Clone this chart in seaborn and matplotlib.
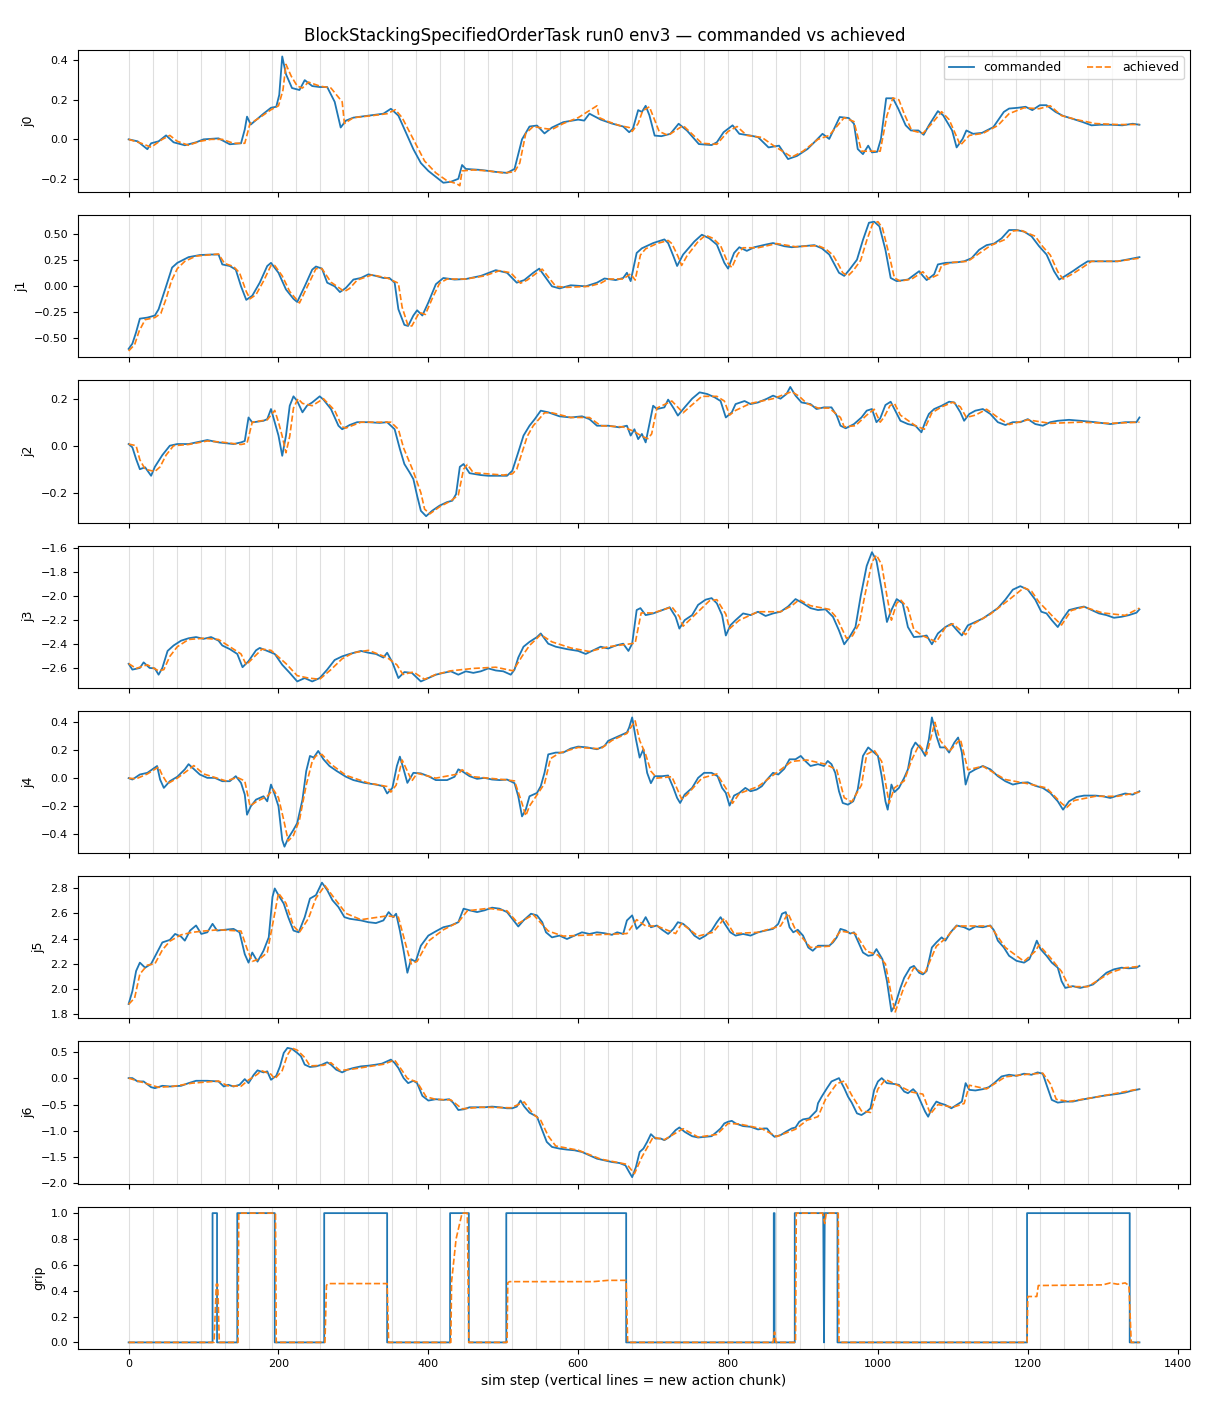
import numpy as np
import pandas as pd
import matplotlib
matplotlib.use("Agg")
import matplotlib.pyplot as plt
from matplotlib.ticker import MultipleLocator
import seaborn as sns

# (sim step, value) keypoints, per joint
j0_cmd = [(0, 0.0), (12, -0.01), (25, -0.05), (30, -0.02), (40, -0.01), (50, 0.02), (60, -0.015), (75, -0.03),
          (90, -0.015), (100, 0.0), (120, 0.005), (135, -0.025), (150, -0.02), (155, 0.05), (158, 0.115),
          (163, 0.075), (180, 0.13), (190, 0.16), (197, 0.165), (201, 0.225), (205, 0.42), (210, 0.33),
          (218, 0.26), (228, 0.25), (235, 0.30), (245, 0.27), (255, 0.265), (265, 0.265), (275, 0.19),
          (283, 0.06), (290, 0.095), (300, 0.11), (320, 0.12), (340, 0.13), (350, 0.155), (360, 0.12),
          (370, 0.035), (380, -0.05), (390, -0.12), (400, -0.16), (410, -0.19), (420, -0.22), (430, -0.215),
          (440, -0.2), (445, -0.13), (450, -0.15), (470, -0.155), (490, -0.165), (505, -0.17), (515, -0.15),
          (525, 0.0), (535, 0.065), (545, 0.07), (555, 0.03), (565, 0.06), (580, 0.087), (600, 0.1),
          (608, 0.095), (615, 0.13), (630, 0.1), (645, 0.08), (660, 0.065), (668, 0.036), (673, 0.054),
          (680, 0.148), (685, 0.139), (690, 0.17), (695, 0.122), (702, 0.019), (711, 0.016), (723, 0.028),
          (734, 0.079), (745, 0.045), (761, -0.024), (778, -0.029), (785, -0.015), (794, 0.036), (806, 0.071),
          (815, 0.028), (830, 0.019), (840, 0.011), (854, -0.041), (868, -0.032), (880, -0.1), (892, -0.084),
          (906, -0.049), (915, -0.015), (926, 0.028), (935, 0.002), (949, 0.113), (961, 0.108), (968, 0.079),
          (973, -0.049), (980, -0.075), (987, -0.032), (992, -0.066), (999, -0.063), (1004, 0.002),
          (1011, 0.208), (1020, 0.208), (1027, 0.156), (1037, 0.071), (1044, 0.045), (1054, 0.045),
          (1061, 0.023), (1068, 0.071), (1080, 0.143), (1087, 0.122), (1099, 0.045), (1105, -0.041),
          (1113, 0.002), (1118, 0.045), (1127, 0.028), (1139, 0.033), (1154, 0.062), (1168, 0.139),
          (1175, 0.156), (1187, 0.16), (1197, 0.165), (1206, 0.148), (1216, 0.173), (1225, 0.173),
          (1237, 0.139), (1247, 0.119), (1259, 0.105), (1273, 0.088), (1285, 0.071), (1297, 0.074),
          (1311, 0.074), (1326, 0.071), (1340, 0.079), (1349, 0.074)]
j0_ach = [(0, 0.0), (17, -0.02), (30, -0.04), (45, 0.0), (55, 0.02), (65, -0.01), (80, -0.03), (95, -0.01),
          (110, 0.0), (125, 0.0), (140, -0.02), (155, -0.02), (162, 0.08), (175, 0.11), (190, 0.15), (200, 0.17),
          (206, 0.25), (210, 0.38), (217, 0.32), (225, 0.27), (232, 0.26), (240, 0.29), (255, 0.27), (270, 0.26),
          (285, 0.19), (288, 0.08), (300, 0.11), (325, 0.12), (345, 0.13), (356, 0.15), (365, 0.11), (380, 0.0),
          (395, -0.11), (410, -0.17), (425, -0.21), (438, -0.225), (442, -0.235), (445, -0.16), (460, -0.155),
          (480, -0.16), (500, -0.17), (515, -0.165), (522, -0.12), (530, 0.03), (540, 0.065), (555, 0.055),
          (565, 0.05), (580, 0.08), (600, 0.11), (625, 0.17), (628, 0.11), (640, 0.09), (655, 0.07),
          (668, 0.06), (672, 0.04), (680, 0.08), (686, 0.145), (695, 0.165), (708, 0.04), (720, 0.02),
          (740, 0.07), (765, -0.02), (785, -0.025), (800, 0.04), (812, 0.065), (825, 0.02), (845, 0.01),
          (860, -0.03), (885, -0.09), (900, -0.06), (920, 0.0), (935, 0.02), (955, 0.11), (968, 0.09),
          (978, -0.06), (992, -0.06), (1003, -0.06), (1012, 0.12), (1020, 0.21), (1028, 0.2), (1035, 0.13),
          (1045, 0.045), (1060, 0.03), (1072, 0.08), (1085, 0.14), (1095, 0.1), (1110, -0.03), (1122, 0.02),
          (1140, 0.03), (1160, 0.07), (1175, 0.13), (1195, 0.16), (1215, 0.155), (1230, 0.17), (1245, 0.12),
          (1265, 0.1), (1290, 0.08), (1320, 0.075), (1349, 0.075)]

j1_cmd = [(0, -0.60), (5, -0.55), (10, -0.44), (15, -0.31), (25, -0.30), (35, -0.28), (40, -0.22), (50, 0.0),
          (58, 0.18), (65, 0.225), (80, 0.28), (95, 0.30), (110, 0.305), (120, 0.305), (125, 0.21), (135, 0.195),
          (143, 0.16), (150, 0.0), (157, -0.13), (165, -0.09), (175, 0.035), (185, 0.195), (190, 0.225),
          (200, 0.13), (210, -0.03), (220, -0.12), (225, -0.15), (235, 0.0), (245, 0.16), (250, 0.19),
          (258, 0.17), (265, 0.035), (275, 0.0), (282, -0.055), (290, -0.015), (300, 0.065), (310, 0.08),
          (320, 0.115), (330, 0.10), (340, 0.08), (348, 0.08), (355, 0.035), (360, -0.22), (368, -0.37),
          (373, -0.38), (380, -0.28), (385, -0.23), (392, -0.28), (400, -0.155), (410, 0.02), (420, 0.08),
          (435, 0.065), (450, 0.07), (470, 0.10), (490, 0.155), (505, 0.13), (518, 0.035), (528, 0.06),
          (540, 0.13), (548, 0.17), (555, 0.10), (565, 0.0), (575, -0.02), (590, 0.01), (610, 0.0),
          (625, 0.035), (635, 0.075), (650, 0.06), (660, 0.08), (665, 0.13), (670, 0.05), (678, 0.32),
          (685, 0.365), (700, 0.415), (715, 0.45), (720, 0.415), (727, 0.29), (732, 0.195), (740, 0.305),
          (755, 0.43), (765, 0.495), (775, 0.46), (785, 0.40), (795, 0.225), (800, 0.17), (808, 0.32),
          (815, 0.375), (825, 0.34), (835, 0.375), (850, 0.40), (860, 0.415), (875, 0.385), (885, 0.375),
          (900, 0.385), (915, 0.395), (925, 0.365), (935, 0.305), (942, 0.21), (948, 0.13), (955, 0.10),
          (962, 0.16), (972, 0.255), (980, 0.445), (988, 0.61), (995, 0.62), (1002, 0.575), (1010, 0.35),
          (1017, 0.08), (1025, 0.05), (1040, 0.065), (1055, 0.145), (1060, 0.10), (1065, 0.06), (1075, 0.115),
          (1080, 0.21), (1090, 0.225), (1105, 0.23), (1115, 0.24), (1125, 0.27), (1135, 0.35), (1145, 0.395),
          (1155, 0.41), (1165, 0.46), (1175, 0.54), (1185, 0.54), (1195, 0.525), (1205, 0.48), (1215, 0.385),
          (1225, 0.305), (1235, 0.145), (1242, 0.065), (1250, 0.10), (1260, 0.145), (1270, 0.195),
          (1280, 0.24), (1300, 0.24), (1320, 0.24), (1335, 0.26), (1349, 0.28)]
j1_ach = [(0, -0.62), (8, -0.56), (14, -0.43), (22, -0.32), (35, -0.30), (43, -0.26), (50, -0.12), (57, 0.05),
          (65, 0.17), (75, 0.24), (90, 0.29), (105, 0.30), (120, 0.31), (128, 0.22), (140, 0.19), (148, 0.13),
          (157, -0.05), (162, -0.12), (170, -0.08), (180, 0.05), (190, 0.2), (195, 0.2), (205, 0.1),
          (215, -0.05), (228, -0.16), (240, 0.02), (250, 0.17), (258, 0.17), (270, 0.04), (280, -0.01),
          (288, -0.05), (295, -0.02), (305, 0.06), (325, 0.11), (345, 0.08), (360, 0.03), (365, -0.2),
          (373, -0.38), (378, -0.38), (388, -0.25), (396, -0.27), (405, -0.12), (415, 0.03), (425, 0.07),
          (450, 0.07), (475, 0.1), (495, 0.15), (510, 0.13), (523, 0.03), (532, 0.06), (545, 0.13),
          (552, 0.165), (560, 0.09), (570, 0.0), (585, -0.01), (615, 0.0), (630, 0.03), (640, 0.07),
          (660, 0.07), (670, 0.12), (676, 0.06), (683, 0.3), (690, 0.36), (705, 0.41), (720, 0.44),
          (725, 0.41), (733, 0.29), (738, 0.2), (745, 0.29), (760, 0.43), (770, 0.49), (780, 0.46),
          (790, 0.39), (800, 0.22), (805, 0.18), (813, 0.31), (820, 0.37), (840, 0.37), (865, 0.41),
          (890, 0.38), (920, 0.39), (930, 0.36), (940, 0.3), (948, 0.2), (953, 0.13), (960, 0.1), (967, 0.15),
          (977, 0.25), (985, 0.44), (993, 0.6), (1000, 0.62), (1006, 0.56), (1015, 0.3), (1022, 0.08),
          (1030, 0.05), (1045, 0.07), (1060, 0.14), (1068, 0.07), (1080, 0.11), (1085, 0.2), (1100, 0.23),
          (1120, 0.24), (1140, 0.34), (1150, 0.39), (1170, 0.45), (1180, 0.53), (1190, 0.54), (1210, 0.48),
          (1220, 0.38), (1230, 0.3), (1240, 0.14), (1247, 0.07), (1260, 0.12), (1275, 0.19), (1285, 0.24),
          (1320, 0.24), (1349, 0.27)]

j2_cmd = [(0, 0.007), (5, -0.007), (10, -0.057), (15, -0.1), (22, -0.092), (30, -0.128), (35, -0.09),
          (45, -0.04), (55, 0.0), (65, 0.007), (80, 0.007), (95, 0.017), (105, 0.024), (120, 0.014),
          (140, 0.007), (150, 0.014), (155, 0.02), (160, 0.12), (165, 0.099), (180, 0.106), (185, 0.113),
          (190, 0.156), (195, 0.1), (200, 0.043), (205, -0.043), (210, 0.043), (215, 0.17), (220, 0.21),
          (225, 0.19), (232, 0.142), (238, 0.17), (245, 0.184), (255, 0.21), (260, 0.196), (270, 0.156),
          (280, 0.085), (285, 0.07), (295, 0.088), (305, 0.1), (320, 0.1), (335, 0.097), (345, 0.1),
          (355, 0.07), (362, -0.014), (368, -0.078), (375, -0.114), (380, -0.142), (385, -0.213),
          (390, -0.277), (397, -0.30), (405, -0.277), (415, -0.255), (425, -0.24), (432, -0.234),
          (437, -0.206), (442, -0.09), (447, -0.078), (455, -0.117), (470, -0.125), (480, -0.128),
          (495, -0.128), (505, -0.128), (512, -0.107), (520, -0.028), (527, 0.043), (535, 0.085),
          (542, 0.113), (550, 0.149), (560, 0.142), (575, 0.125), (590, 0.12), (605, 0.125), (615, 0.113),
          (625, 0.085), (640, 0.085), (655, 0.078), (665, 0.085), (670, 0.043), (675, 0.07), (680, 0.028),
          (685, 0.05), (690, 0.014), (700, 0.17), (705, 0.156), (715, 0.163), (720, 0.196), (728, 0.156),
          (733, 0.128), (742, 0.163), (752, 0.2), (762, 0.227), (772, 0.22), (782, 0.206), (790, 0.19),
          (797, 0.12), (805, 0.142), (810, 0.177), (822, 0.19), (830, 0.177), (840, 0.184), (852, 0.2),
          (860, 0.213), (870, 0.2), (878, 0.22), (883, 0.25), (890, 0.213), (898, 0.184), (910, 0.177),
          (918, 0.156), (928, 0.163), (938, 0.163), (945, 0.128), (950, 0.085), (957, 0.074), (968, 0.092),
          (978, 0.12), (985, 0.149), (992, 0.156), (998, 0.1), (1003, 0.116), (1010, 0.173), (1017, 0.187),
          (1022, 0.156), (1030, 0.106), (1040, 0.092), (1050, 0.085), (1058, 0.057), (1063, 0.1),
          (1068, 0.135), (1075, 0.156), (1085, 0.17), (1095, 0.187), (1102, 0.184), (1110, 0.142),
          (1115, 0.106), (1122, 0.135), (1130, 0.149), (1140, 0.156), (1150, 0.135), (1160, 0.1),
          (1170, 0.088), (1180, 0.1), (1190, 0.1), (1200, 0.113), (1210, 0.092), (1220, 0.085), (1230, 0.1),
          (1240, 0.106), (1255, 0.11), (1270, 0.106), (1290, 0.1), (1310, 0.092), (1330, 0.1), (1345, 0.1),
          (1349, 0.12)]
j2_ach = [(0, 0.007), (10, 0.0), (15, -0.06), (22, -0.1), (35, -0.11), (42, -0.09), (50, -0.04), (60, 0.0),
          (80, 0.005), (105, 0.02), (125, 0.015), (150, 0.005), (158, 0.01), (165, 0.1), (185, 0.11),
          (195, 0.15), (200, 0.1), (205, 0.04), (210, -0.03), (215, 0.04), (220, 0.16), (226, 0.2), (232, 0.18),
          (245, 0.17), (260, 0.2), (275, 0.15), (285, 0.08), (290, 0.075), (310, 0.1), (350, 0.1), (360, 0.07),
          (367, -0.01), (380, -0.11), (390, -0.2), (395, -0.27), (402, -0.29), (415, -0.26), (430, -0.235),
          (440, -0.21), (447, -0.1), (452, -0.08), (460, -0.115), (500, -0.125), (512, -0.12), (518, -0.1),
          (525, -0.03), (532, 0.04), (540, 0.085), (555, 0.14), (565, 0.14), (590, 0.12), (615, 0.12),
          (630, 0.085), (660, 0.08), (675, 0.06), (685, 0.04), (693, 0.03), (698, 0.05), (705, 0.16),
          (725, 0.19), (740, 0.14), (747, 0.16), (765, 0.21), (785, 0.21), (795, 0.19), (802, 0.13),
          (810, 0.15), (830, 0.18), (860, 0.2), (885, 0.23), (895, 0.21), (905, 0.18), (920, 0.16),
          (935, 0.16), (950, 0.12), (955, 0.08), (970, 0.085), (985, 0.13), (995, 0.155), (1003, 0.1),
          (1008, 0.12), (1016, 0.17), (1022, 0.18), (1030, 0.13), (1050, 0.085), (1062, 0.07), (1072, 0.14),
          (1085, 0.165), (1100, 0.185), (1110, 0.165), (1118, 0.12), (1130, 0.13), (1145, 0.155),
          (1160, 0.12), (1175, 0.09), (1200, 0.11), (1230, 0.095), (1270, 0.1), (1310, 0.095), (1349, 0.1)]

j3_cmd = [(0, -2.562), (5, -2.61), (15, -2.596), (20, -2.55), (28, -2.596), (35, -2.6), (40, -2.652),
          (45, -2.596), (52, -2.455), (60, -2.41), (70, -2.37), (80, -2.35), (90, -2.34), (100, -2.355),
          (110, -2.34), (120, -2.37), (125, -2.41), (135, -2.44), (145, -2.48), (152, -2.59), (160, -2.54),
          (170, -2.45), (175, -2.43), (185, -2.455), (195, -2.48), (205, -2.57), (215, -2.637), (225, -2.708),
          (235, -2.68), (245, -2.708), (255, -2.68), (265, -2.61), (275, -2.53), (285, -2.5), (295, -2.48),
          (310, -2.455), (320, -2.47), (330, -2.48), (340, -2.51), (345, -2.47), (352, -2.55), (360, -2.68),
          (368, -2.63), (378, -2.637), (390, -2.708), (400, -2.68), (410, -2.652), (420, -2.637),
          (430, -2.624), (440, -2.652), (450, -2.624), (460, -2.637), (470, -2.624), (480, -2.6),
          (490, -2.617), (500, -2.624), (510, -2.652), (515, -2.61), (520, -2.51), (527, -2.42), (535, -2.38),
          (545, -2.34), (550, -2.31), (560, -2.395), (570, -2.42), (585, -2.44), (600, -2.455), (610, -2.48),
          (620, -2.45), (630, -2.42), (640, -2.435), (650, -2.41), (660, -2.395), (667, -2.455),
          (672, -2.395), (678, -2.116), (683, -2.1), (690, -2.158), (700, -2.144), (715, -2.11),
          (722, -2.093), (730, -2.172), (735, -2.27), (742, -2.2), (752, -2.158), (760, -2.073), (770, -2.03),
          (778, -2.017), (785, -2.06), (792, -2.158), (797, -2.327), (803, -2.243), (810, -2.2),
          (820, -2.144), (830, -2.158), (840, -2.13), (850, -2.165), (860, -2.144), (870, -2.13),
          (880, -2.087), (890, -2.025), (900, -2.06), (910, -2.1), (920, -2.116), (930, -2.11), (940, -2.172),
          (948, -2.285), (955, -2.4), (962, -2.34), (970, -2.257), (977, -2.0), (985, -1.75), (992, -1.636),
          (998, -1.706), (1005, -1.947), (1012, -2.215), (1018, -2.116), (1025, -2.025), (1033, -2.06),
          (1040, -2.257), (1048, -2.34), (1058, -2.335), (1065, -2.327), (1072, -2.4), (1080, -2.31),
          (1090, -2.257), (1098, -2.23), (1105, -2.28), (1112, -2.327), (1120, -2.243), (1130, -2.215),
          (1140, -2.186), (1150, -2.144), (1160, -2.1), (1170, -2.03), (1180, -1.947), (1190, -1.918),
          (1200, -1.947), (1210, -2.03), (1218, -2.13), (1225, -2.144), (1232, -2.2), (1240, -2.257),
          (1247, -2.186), (1255, -2.116), (1265, -2.1), (1275, -2.087), (1285, -2.116), (1295, -2.144),
          (1305, -2.158), (1315, -2.18), (1325, -2.172), (1335, -2.158), (1345, -2.138), (1349, -2.11)]
j3_ach = [(0, -2.56), (10, -2.6), (25, -2.57), (40, -2.62), (47, -2.61), (55, -2.5), (65, -2.42), (80, -2.36),
          (100, -2.35), (120, -2.36), (130, -2.4), (150, -2.48), (157, -2.57), (165, -2.52), (178, -2.44),
          (190, -2.45), (210, -2.56), (225, -2.66), (240, -2.68), (255, -2.69), (270, -2.61), (285, -2.52),
          (300, -2.47), (320, -2.45), (345, -2.51), (358, -2.57), (366, -2.65), (380, -2.63), (395, -2.69),
          (410, -2.65), (430, -2.62), (460, -2.6), (490, -2.59), (513, -2.62), (525, -2.5), (535, -2.41),
          (550, -2.32), (565, -2.38), (590, -2.43), (615, -2.46), (640, -2.42), (665, -2.4), (676, -2.39),
          (684, -2.14), (700, -2.14), (725, -2.09), (735, -2.17), (740, -2.25), (760, -2.13), (775, -2.04),
          (785, -2.03), (797, -2.15), (802, -2.27), (815, -2.2), (840, -2.13), (870, -2.13), (885, -2.08),
          (895, -2.03), (910, -2.08), (935, -2.11), (945, -2.18), (958, -2.35), (966, -2.33), (975, -2.23),
          (983, -1.98), (992, -1.72), (998, -1.66), (1005, -1.74), (1012, -2.0), (1018, -2.2), (1025, -2.06),
          (1030, -2.03), (1040, -2.1), (1048, -2.28), (1060, -2.33), (1078, -2.38), (1090, -2.26),
          (1100, -2.23), (1117, -2.32), (1125, -2.24), (1150, -2.15), (1175, -2.03), (1195, -1.93),
          (1205, -1.96), (1215, -2.05), (1235, -2.18), (1245, -2.24), (1258, -2.12), (1275, -2.09),
          (1300, -2.14), (1330, -2.16), (1349, -2.1)]

j4_cmd = [(0, 0.0), (5, -0.01), (15, 0.026), (25, 0.038), (35, 0.075), (38, 0.087), (42, -0.01), (47, -0.07),
          (55, -0.022), (65, 0.01), (75, 0.063), (80, 0.1), (85, 0.075), (95, 0.026), (105, 0.002),
          (115, 0.002), (125, -0.022), (135, -0.022), (143, 0.014), (150, -0.034), (155, -0.118),
          (158, -0.262), (163, -0.202), (170, -0.154), (180, -0.13), (185, -0.166), (190, -0.046),
          (195, -0.118), (200, -0.202), (205, -0.443), (208, -0.491), (213, -0.43), (220, -0.37),
          (225, -0.322), (232, -0.154), (237, 0.05), (242, 0.159), (247, 0.147), (253, 0.195), (260, 0.135),
          (268, 0.087), (278, 0.05), (290, 0.01), (300, -0.014), (315, -0.034), (330, -0.046), (340, -0.058),
          (345, -0.11), (352, -0.07), (358, 0.087), (362, 0.154), (367, 0.063), (372, -0.034), (380, 0.038),
          (390, 0.034), (400, 0.014), (410, -0.014), (425, -0.014), (435, 0.01), (440, 0.063), (445, 0.05),
          (455, 0.014), (465, -0.005), (475, 0.002), (485, -0.01), (495, -0.014), (505, -0.01), (515, -0.036),
          (520, -0.13), (525, -0.274), (530, -0.226), (535, -0.13), (545, -0.106), (550, -0.058),
          (555, 0.038), (560, 0.17), (570, 0.183), (580, 0.183), (590, 0.212), (600, 0.226), (612, 0.22),
          (625, 0.207), (635, 0.23), (640, 0.267), (650, 0.291), (660, 0.315), (665, 0.327), (668, 0.363),
          (672, 0.435), (677, 0.279), (682, 0.147), (687, 0.207), (692, 0.038), (697, -0.036), (702, 0.014),
          (712, 0.014), (720, 0.019), (727, -0.07), (732, -0.142), (736, -0.178), (742, -0.118), (752, -0.07),
          (760, 0.002), (768, 0.038), (778, 0.038), (786, 0.014), (792, -0.07), (797, -0.106), (802, -0.197),
          (808, -0.125), (815, -0.106), (823, -0.07), (830, -0.094), (838, -0.082), (845, -0.058),
          (852, -0.01), (860, 0.038), (867, 0.026), (875, 0.067), (882, 0.135), (890, 0.135), (897, 0.159),
          (903, 0.123), (910, 0.087), (920, 0.1), (928, 0.087), (933, 0.123), (938, 0.1), (943, 0.038),
          (948, -0.094), (953, -0.178), (960, -0.19), (967, -0.166), (973, -0.082), (980, 0.159), (987, 0.22),
          (995, 0.183), (1000, 0.159), (1005, 0.014), (1010, -0.166), (1013, -0.226), (1018, -0.046),
          (1022, -0.1), (1028, -0.07), (1035, 0.002), (1040, 0.063), (1045, 0.207), (1050, 0.255),
          (1058, 0.207), (1063, 0.159), (1068, 0.279), (1072, 0.435), (1078, 0.303), (1083, 0.22),
          (1090, 0.22), (1095, 0.183), (1102, 0.255), (1107, 0.291), (1112, 0.183), (1117, -0.046),
          (1122, 0.038), (1130, 0.063), (1140, 0.087), (1150, 0.063), (1160, 0.014), (1170, -0.022),
          (1180, -0.046), (1190, -0.034), (1200, -0.03), (1210, -0.055), (1220, -0.07), (1230, -0.106),
          (1240, -0.166), (1247, -0.226), (1255, -0.166), (1265, -0.135), (1275, -0.125), (1290, -0.125),
          (1300, -0.13), (1310, -0.142), (1320, -0.125), (1330, -0.11), (1340, -0.118), (1349, -0.094)]
j4_ach = [(0, 0.0), (10, -0.005), (25, 0.03), (40, 0.08), (45, 0.02), (52, -0.04), (65, 0.0), (80, 0.06),
          (87, 0.09), (100, 0.03), (115, 0.005), (130, -0.02), (145, 0.005), (155, -0.02), (162, -0.2),
          (170, -0.17), (185, -0.13), (193, -0.08), (200, -0.14), (207, -0.3), (213, -0.45), (220, -0.41),
          (228, -0.3), (237, -0.05), (245, 0.12), (250, 0.16), (258, 0.17), (270, 0.1), (290, 0.02),
          (320, -0.035), (345, -0.06), (350, -0.1), (357, -0.05), (365, 0.13), (372, 0.05), (378, -0.02),
          (385, 0.035), (410, 0.0), (440, 0.03), (445, 0.06), (460, 0.01), (500, -0.01), (515, -0.02),
          (525, -0.18), (530, -0.27), (535, -0.2), (545, -0.12), (555, -0.04), (563, 0.14), (575, 0.18),
          (600, 0.22), (630, 0.21), (645, 0.27), (665, 0.32), (676, 0.41), (682, 0.27), (690, 0.17),
          (697, 0.05), (705, 0.0), (725, 0.01), (738, -0.15), (745, -0.12), (765, 0.0), (785, 0.03),
          (798, -0.08), (806, -0.18), (815, -0.11), (840, -0.06), (865, 0.04), (885, 0.12), (905, 0.13),
          (930, 0.1), (945, 0.06), (955, -0.14), (965, -0.17), (978, -0.05), (985, 0.17), (995, 0.2),
          (1005, 0.12), (1015, -0.18), (1022, -0.07), (1035, -0.02), (1045, 0.13), (1055, 0.24),
          (1065, 0.17), (1076, 0.4), (1083, 0.27), (1095, 0.19), (1110, 0.28), (1120, 0.06), (1140, 0.085),
          (1170, -0.01), (1200, -0.04), (1225, -0.07), (1245, -0.18), (1252, -0.21), (1262, -0.16),
          (1290, -0.13), (1320, -0.13), (1349, -0.1)]

j5_cmd = [(0, 1.883), (5, 1.984), (10, 2.144), (15, 2.21), (22, 2.17), (30, 2.2), (38, 2.29), (45, 2.37),
          (55, 2.39), (62, 2.437), (70, 2.416), (75, 2.384), (82, 2.464), (90, 2.504), (97, 2.437), (105, 2.45),
          (112, 2.517), (118, 2.464), (128, 2.47), (140, 2.477), (148, 2.45), (155, 2.277), (160, 2.21),
          (165, 2.29), (172, 2.218), (180, 2.304), (187, 2.41), (192, 2.73), (195, 2.797), (200, 2.744),
          (207, 2.677), (213, 2.57), (220, 2.464), (227, 2.45), (235, 2.57), (242, 2.717), (250, 2.744),
          (258, 2.843), (265, 2.784), (272, 2.704), (280, 2.65), (288, 2.57), (295, 2.557), (310, 2.544),
          (320, 2.53), (330, 2.523), (340, 2.544), (347, 2.61), (353, 2.57), (357, 2.597), (362, 2.464),
          (367, 2.304), (372, 2.13), (377, 2.237), (383, 2.218), (390, 2.344), (400, 2.424), (410, 2.458),
          (420, 2.49), (430, 2.504), (440, 2.53), (447, 2.637), (455, 2.624), (465, 2.61), (475, 2.624),
          (485, 2.645), (495, 2.637), (505, 2.61), (512, 2.557), (520, 2.496), (527, 2.544), (537, 2.597),
          (545, 2.584), (552, 2.53), (557, 2.45), (565, 2.41), (575, 2.424), (585, 2.397), (595, 2.424),
          (605, 2.45), (615, 2.437), (625, 2.45), (635, 2.443), (645, 2.43), (652, 2.45), (660, 2.437),
          (665, 2.544), (672, 2.584), (678, 2.477), (685, 2.517), (690, 2.57), (697, 2.49), (705, 2.504),
          (712, 2.47), (720, 2.437), (727, 2.477), (733, 2.53), (740, 2.517), (748, 2.477), (755, 2.424),
          (762, 2.397), (770, 2.424), (778, 2.464), (785, 2.53), (790, 2.57), (797, 2.504), (803, 2.45),
          (810, 2.424), (820, 2.437), (830, 2.424), (840, 2.45), (850, 2.464), (860, 2.477), (867, 2.517),
          (872, 2.597), (877, 2.61), (882, 2.49), (887, 2.45), (893, 2.47), (900, 2.424), (907, 2.33),
          (913, 2.304), (920, 2.344), (928, 2.344), (935, 2.344), (940, 2.37), (945, 2.41), (950, 2.477),
          (957, 2.464), (963, 2.44), (968, 2.45), (973, 2.384), (980, 2.29), (987, 2.264), (993, 2.27),
          (998, 2.317), (1002, 2.277), (1006, 2.237), (1012, 2.064), (1018, 1.824), (1023, 1.877),
          (1030, 2.01), (1035, 2.09), (1043, 2.17), (1048, 2.184), (1055, 2.13), (1060, 2.117), (1065, 2.144),
          (1072, 2.33), (1078, 2.37), (1085, 2.41), (1090, 2.384), (1097, 2.45), (1105, 2.504), (1115, 2.49),
          (1122, 2.47), (1130, 2.496), (1140, 2.49), (1150, 2.504), (1155, 2.464), (1160, 2.384),
          (1168, 2.33), (1175, 2.264), (1185, 2.224), (1195, 2.21), (1202, 2.237), (1207, 2.304),
          (1212, 2.384), (1217, 2.317), (1225, 2.264), (1232, 2.21), (1240, 2.17), (1245, 2.064),
          (1250, 2.01), (1260, 2.024), (1270, 2.01), (1280, 2.024), (1287, 2.037), (1295, 2.077),
          (1305, 2.13), (1315, 2.157), (1325, 2.17), (1335, 2.165), (1345, 2.17), (1349, 2.184)]
j5_ach = [(0, 1.88), (8, 1.93), (15, 2.12), (25, 2.19), (35, 2.2), (45, 2.31), (55, 2.38), (70, 2.43),
          (85, 2.45), (100, 2.46), (120, 2.47), (150, 2.46), (158, 2.32), (165, 2.22), (175, 2.24), (185, 2.29),
          (195, 2.6), (200, 2.76), (210, 2.68), (220, 2.5), (228, 2.45), (240, 2.56), (250, 2.72), (262, 2.82),
          (272, 2.74), (290, 2.6), (310, 2.55), (345, 2.58), (360, 2.57), (370, 2.35), (377, 2.2), (385, 2.22),
          (400, 2.38), (420, 2.47), (440, 2.53), (452, 2.62), (480, 2.64), (505, 2.62), (520, 2.52),
          (540, 2.59), (560, 2.46), (580, 2.42), (620, 2.43), (665, 2.44), (678, 2.55), (690, 2.5),
          (705, 2.5), (730, 2.44), (738, 2.52), (760, 2.42), (780, 2.45), (795, 2.56), (808, 2.44),
          (840, 2.45), (870, 2.5), (880, 2.6), (890, 2.47), (910, 2.33), (935, 2.34), (950, 2.46),
          (970, 2.44), (985, 2.3), (1000, 2.27), (1010, 2.2), (1018, 1.95), (1023, 1.82), (1035, 2.02),
          (1048, 2.17), (1062, 2.12), (1078, 2.34), (1090, 2.4), (1105, 2.5), (1150, 2.5), (1170, 2.33),
          (1195, 2.22), (1210, 2.3), (1215, 2.35), (1230, 2.25), (1245, 2.14), (1255, 2.02), (1280, 2.02),
          (1310, 2.13), (1330, 2.17), (1349, 2.18)]

j6_cmd = [(0, 0.006), (5, 0.006), (12, -0.058), (20, -0.058), (30, -0.167), (35, -0.186), (45, -0.141),
          (55, -0.154), (70, -0.141), (80, -0.09), (90, -0.045), (105, -0.045), (120, -0.058), (127, -0.154),
          (133, -0.122), (140, -0.154), (148, -0.122), (155, -0.013), (160, -0.09), (167, 0.07), (172, 0.154),
          (180, 0.115), (185, 0.135), (190, -0.026), (197, 0.05), (202, 0.23), (207, 0.487), (212, 0.583),
          (218, 0.564), (225, 0.487), (230, 0.423), (235, 0.263), (242, 0.218), (250, 0.23), (258, 0.263),
          (265, 0.308), (270, 0.263), (277, 0.167), (285, 0.115), (292, 0.167), (300, 0.199), (310, 0.23),
          (320, 0.243), (330, 0.263), (338, 0.282), (345, 0.327), (350, 0.359), (355, 0.295), (360, 0.199),
          (367, 0.006), (373, -0.09), (380, -0.045), (385, -0.09), (392, -0.333), (400, -0.423),
          (410, -0.397), (420, -0.41), (428, -0.397), (433, -0.462), (440, -0.603), (447, -0.59),
          (455, -0.551), (465, -0.551), (475, -0.551), (485, -0.538), (495, -0.551), (505, -0.57),
          (512, -0.57), (518, -0.538), (523, -0.423), (528, -0.538), (535, -0.654), (545, -0.731),
          (552, -0.987), (558, -1.212), (565, -1.308), (575, -1.34), (585, -1.359), (595, -1.372),
          (605, -1.404), (615, -1.468), (625, -1.532), (635, -1.564), (645, -1.596), (655, -1.615),
          (663, -1.66), (668, -1.788), (672, -1.885), (677, -1.692), (682, -1.404), (687, -1.34),
          (692, -1.212), (697, -1.064), (703, -1.147), (710, -1.147), (715, -1.179), (722, -1.115),
          (730, -0.987), (735, -0.936), (742, -1.019), (752, -1.103), (760, -1.128), (770, -1.115),
          (778, -1.103), (785, -1.019), (790, -0.955), (795, -0.859), (800, -0.827), (805, -0.81),
          (810, -0.859), (820, -0.91), (830, -0.923), (840, -0.974), (848, -0.955), (852, -0.955),
          (857, -1.051), (862, -1.115), (870, -1.083), (877, -1.019), (885, -0.955), (890, -0.936),
          (895, -0.827), (900, -0.782), (908, -0.763), (918, -0.616), (920, -0.474), (925, -0.346),
          (932, -0.186), (938, -0.058), (948, 0.006), (955, -0.186), (960, -0.346), (965, -0.462),
          (972, -0.667), (978, -0.699), (985, -0.635), (990, -0.57), (995, -0.218), (1000, -0.058),
          (1005, 0.006), (1012, -0.09), (1020, -0.103), (1028, -0.122), (1035, -0.25), (1040, -0.282),
          (1047, -0.205), (1052, -0.282), (1058, -0.474), (1063, -0.635), (1067, -0.731), (1072, -0.57),
          (1078, -0.442), (1083, -0.474), (1090, -0.506), (1098, -0.57), (1105, -0.506), (1112, -0.442),
          (1117, -0.09), (1122, -0.218), (1130, -0.23), (1140, -0.205), (1148, -0.167), (1155, -0.09),
          (1165, 0.038), (1175, 0.07), (1185, 0.05), (1195, 0.09), (1205, 0.07), (1213, 0.115), (1220, 0.09),
          (1225, -0.122), (1232, -0.41), (1240, -0.462), (1250, -0.442), (1260, -0.442), (1270, -0.41),
          (1280, -0.384), (1290, -0.359), (1300, -0.333), (1310, -0.314), (1320, -0.295), (1330, -0.269),
          (1340, -0.23), (1349, -0.205)]
j6_ach = [(0, 0.005), (15, -0.06), (40, -0.17), (60, -0.15), (85, -0.09), (120, -0.05), (132, -0.14),
          (150, -0.15), (160, -0.03), (172, 0.08), (177, 0.15), (190, 0.08), (195, -0.01), (205, 0.15),
          (212, 0.45), (218, 0.58), (225, 0.54), (235, 0.4), (242, 0.24), (260, 0.25), (270, 0.3), (282, 0.15),
          (300, 0.18), (340, 0.27), (355, 0.35), (365, 0.15), (372, 0.0), (385, -0.07), (397, -0.35),
          (410, -0.4), (430, -0.41), (445, -0.58), (470, -0.55), (510, -0.56), (528, -0.45), (540, -0.68),
          (550, -0.8), (560, -1.1), (570, -1.29), (600, -1.37), (630, -1.54), (665, -1.64), (675, -1.82),
          (685, -1.5), (700, -1.12), (715, -1.17), (740, -0.96), (760, -1.12), (785, -1.07), (800, -0.86),
          (815, -0.87), (845, -0.96), (865, -1.11), (890, -0.97), (905, -0.8), (920, -0.73), (930, -0.4),
          (945, -0.1), (955, -0.05), (965, -0.32), (978, -0.62), (990, -0.65), (1000, -0.2), (1010, -0.02),
          (1025, -0.12), (1045, -0.26), (1060, -0.3), (1070, -0.68), (1080, -0.5), (1100, -0.55),
          (1115, -0.48), (1122, -0.13), (1145, -0.2), (1170, 0.03), (1200, 0.08), (1220, 0.1), (1230, -0.1),
          (1238, -0.4), (1255, -0.44), (1290, -0.36), (1349, -0.2)]

grip_cmd = [(0, 0), (112, 0), (112, 1), (118, 1), (118, 0), (145, 0), (145, 1), (195, 1), (195, 0), (261, 0),
            (261, 1), (345, 1), (345, 0), (429, 0), (429, 1), (454, 1), (454, 0), (504, 0), (504, 1), (664, 1),
            (664, 0), (861, 0), (861, 1), (862, 1), (862, 0), (889, 0), (889, 1), (927, 1), (928, 0), (929, 1),
            (946, 1), (946, 0), (1199, 0), (1199, 1), (1336, 1), (1336, 0), (1349, 0)]
grip_ach = [(0, 0), (114, 0), (117, 0.45), (119, 0.45), (121, 0), (146, 0), (147, 1.0), (196, 1.0), (197, 0),
            (262, 0), (264, 0.44), (266, 0.455), (345, 0.455), (347, 0), (430, 0), (431, 0.47), (437, 0.8),
            (445, 1.0), (452, 1.0), (454, 0), (505, 0), (506, 0.46), (508, 0.47), (560, 0.47), (620, 0.47),
            (640, 0.48), (664, 0.48), (666, 0), (860, 0), (862, 0.08), (864, 0), (890, 0), (891, 1.0),
            (926, 1.0), (929, 0.92), (931, 1.0), (947, 1.0), (948, 0), (1199, 0), (1200, 0.355), (1212, 0.355),
            (1214, 0.44), (1300, 0.445), (1310, 0.46), (1320, 0.45), (1330, 0.46), (1335, 0.44), (1338, 0),
            (1349, 0)]

joint_names = ["j0", "j1", "j2", "j3", "j4", "j5", "j6", "grip"]
cmd_series = [j0_cmd, j1_cmd, j2_cmd, j3_cmd, j4_cmd, j5_cmd, j6_cmd, grip_cmd]
ach_series = [j0_ach, j1_ach, j2_ach, j3_ach, j4_ach, j5_ach, j6_ach, grip_ach]
chunk_len = 32
n_steps = 1350

fig, axes = plt.subplots(8, 1, figsize=(12.1, 14.08), dpi=100, sharex=True)
fig.subplots_adjust(left=0.0645, right=0.9835, top=0.9645, bottom=0.042, hspace=0.162)

for i, ax in enumerate(axes):
    cmd = pd.DataFrame(cmd_series[i], columns=["step", "value"])
    ach = pd.DataFrame(ach_series[i], columns=["step", "value"])
    for c in range(0, n_steps, chunk_len):
        ax.axvline(c, color="0.5", alpha=0.25, lw=0.8, zorder=0)
    sns.lineplot(data=cmd, x="step", y="value", ax=ax, color="#1f77b4", lw=1.3,
                 estimator=None, sort=False, label="commanded", legend=False)
    sns.lineplot(data=ach, x="step", y="value", ax=ax, color="#ff7f0e", lw=1.2,
                 linestyle="--", estimator=None, sort=False, label="achieved", legend=False)
    ax.set_ylabel(joint_names[i], fontsize=9)
    ax.set_xlabel("")
    ax.tick_params(labelsize=8)

# j2 only gets ticks every 0.2 in the original
axes[2].yaxis.set_major_locator(MultipleLocator(0.2))

axes[0].legend(loc="upper right", ncol=2, fontsize=9)
axes[-1].set_xlim(-67.5, 1416.5)
axes[-1].set_xlabel("sim step (vertical lines = new action chunk)", fontsize=10)
fig.suptitle("BlockStackingSpecifiedOrderTask run0 env3 — commanded vs achieved", fontsize=12, y=0.981)

fig.savefig("out.png", dpi=100)
